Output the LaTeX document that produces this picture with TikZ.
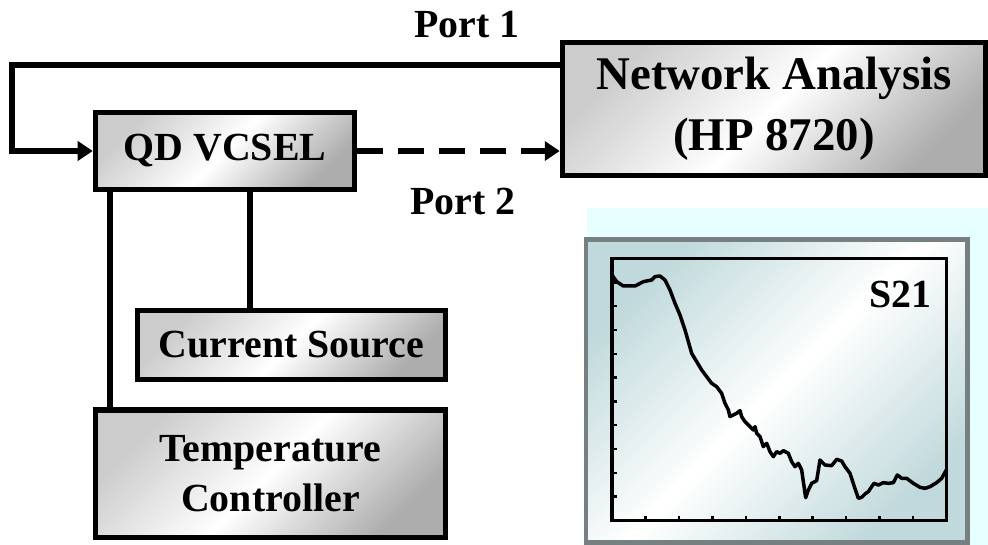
\documentclass[tikz,border=0pt]{standalone}
\usepackage{fontspec}
\setmainfont{Liberation Serif}
\usetikzlibrary{arrows.meta}

\definecolor{panelbg}{RGB}{230,255,255}
\definecolor{panelshade}{RGB}{192,217,220}
\definecolor{panelrim}{RGB}{118,128,128}

\begin{document}
\begin{tikzpicture}[x=1bp,y=-1bp,
  box/.style={draw, line width=5.5bp, left color=black!20, right color=black!32,
    middle color=white, shading angle=45, inner sep=0pt, align=center,
    font=\bfseries\fontsize{40}{50}\selectfont},
  conn/.style={line width=5.5bp},
  portarrow/.style={-{Triangle[length=15bp,width=19bp]}},
  lbl/.style={font=\bfseries\fontsize{40}{48}\selectfont, anchor=base}]
\useasboundingbox (0,0) rectangle (988,545);

% blocks
\node[box, minimum width=259bp, minimum height=77bp] (vcsel) at (225,151) {QD VCSEL};
\node[box, minimum width=423bp, minimum height=133bp,
  font=\bfseries\fontsize{47}{61}\selectfont] (na) at (774,109) {Network Analysis\\(HP 8720)};
\node[box, minimum width=307.5bp, minimum height=68.5bp] (cs) at (291.5,345) {Current Source};
\node[box, minimum width=349.5bp, minimum height=127.5bp] (tc) at (270.5,473.5) {Temperature\\Controller};

% ports
\node[lbl] (port1) at (467,38) {Port 1};
\node[lbl] (port2) at (463,215) {Port 2};
\coordinate (loop) at (12,151);
\draw[conn, portarrow] ([yshift=44bp]na.west) -| (loop) -- (vcsel.west);
\draw[conn, portarrow, dash pattern=on 26bp off 15bp] (vcsel.east) -- (vcsel.east -| na.west);

% bias and temperature lines
\draw[conn] ([xshift=-115bp]vcsel.south) -- ([xshift=-115bp]vcsel.south |- tc.north);
\draw[conn] ([xshift=25bp]vcsel.south) -- ([xshift=25bp]vcsel.south |- cs.north);

% S21 trace panel
\fill[panelbg] (587,208) rectangle (988,545);
\shade[left color=panelshade, right color=panelshade, middle color=white, shading angle=45]
  (586,239.5) rectangle (967.5,542.5);
\draw[panelrim, line width=4.5bp] (586,239.5) rectangle (967.5,542.5);
\draw[line width=3.5bp] (612,258.5) rectangle (946.5,520.5);
\foreach \k in {1,...,10}
  \draw[line width=2.5bp] (612,258.5+\k*23.82) -- ++(5,0);
\foreach \k in {1,...,9}
  \draw[line width=2.5bp] (612+\k*33.45,520.5) -- ++(0,-5);
\begin{scope}[shift={(560,200)}, scale=1/3]
\draw[line width=3.5bp, line join=round]
  (158,228) -- (170,245) -- (190,258) -- (225,258) -- (250,245) -- (275,240) -- (285,230)
  -- (300,228) -- (315,240) -- (330,270) -- (345,310) -- (360,345) -- (375,390) -- (385,425)
  -- (395,460) -- (410,485) -- (425,510) -- (440,530) -- (455,550) -- (470,560) -- (485,580)
  -- (495,610) -- (505,630) -- (510,650) -- (520,645) -- (530,640) -- (540,632) -- (545,650)
  -- (555,665) -- (570,680) -- (580,690) -- (585,680) -- (590,700) -- (600,710) -- (610,740)
  -- (620,730) -- (630,755) -- (640,770) -- (650,755) -- (660,760) -- (670,752) -- (685,760)
  -- (695,785) -- (705,800) -- (715,790) -- (725,810) -- (737,893) -- (745,870) -- (755,850)
  -- (770,842) -- (780,780) -- (795,795) -- (815,797) -- (830,778) -- (845,783) -- (855,800)
  -- (870,820) -- (883,860) -- (895,895) -- (905,892) -- (915,882) -- (925,875) -- (935,860)
  -- (942,850) -- (955,855) -- (970,848) -- (985,850) -- (1000,848) -- (1012,825) -- (1025,835)
  -- (1040,835) -- (1060,850) -- (1080,862) -- (1095,865) -- (1110,860) -- (1130,848)
  -- (1145,835) -- (1160,808);
\end{scope}
\node[lbl] (s21) at (900,308) {S21};
\end{tikzpicture}
\end{document}
